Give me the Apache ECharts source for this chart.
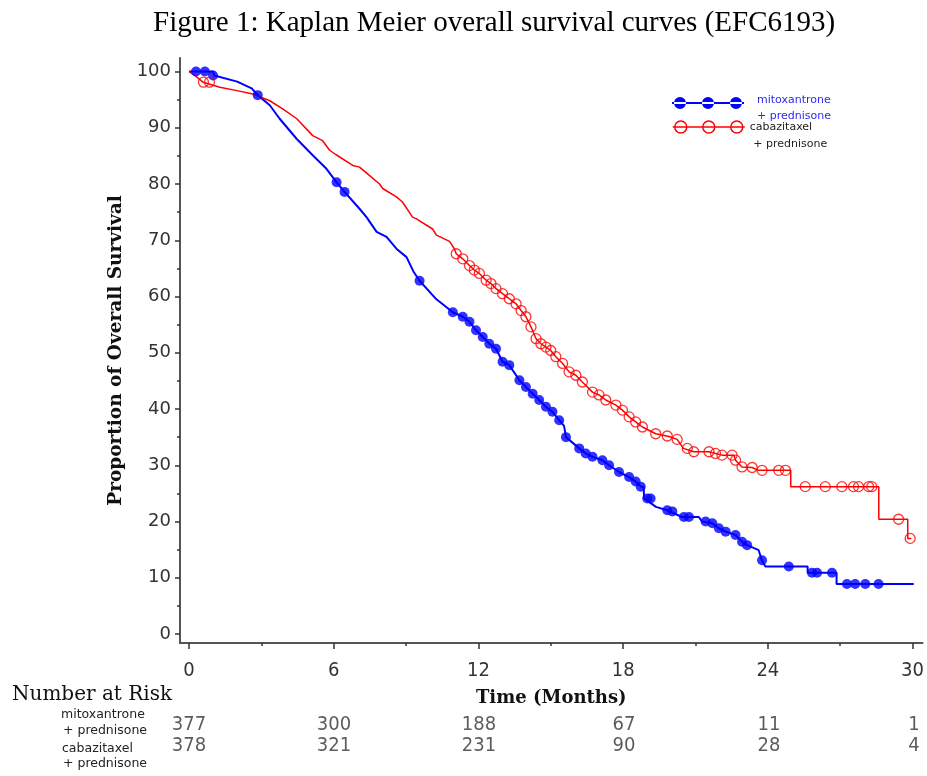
<!DOCTYPE html>
<html><head><meta charset="utf-8">
<script src="https://cdn.jsdelivr.net/npm/echarts@6/dist/echarts.min.js"></script>
<style>html,body{margin:0;padding:0;background:#fff}#c{width:927px;height:776px}</style>
</head><body><div id="c"></div>
<script>
// ---- data ----
const chartTitle = 'Figure 1: Kaplan Meier overall survival curves (EFC6193)';
const mitoName = 'mitoxantrone\n+ prednisone';
const cabaName = 'cabazitaxel\n + prednisone';
const xTickLabels = [0, 6, 12, 18, 24, 30];
const xMinorTicks = [3, 9, 15, 21, 27];
const yTickLabels = [0, 10, 20, 30, 40, 50, 60, 70, 80, 90, 100];
const yMinorTicks = [5, 15, 25, 35, 45, 55, 65, 75, 85, 95];
const riskGroups = ['mitoxantrone + prednisone', 'cabazitaxel + prednisone'];
const riskTimes = [0, 6, 12, 18, 24, 30];
const riskMito = [377, 300, 188, 67, 11, 1];
const riskCaba = [378, 321, 231, 90, 28, 4];

// Kaplan-Meier curve readings [month, % surviving]
const mitoCurve = [[0,100],[1.0,100],[1.05,99.3],[2.0,98.2],[2.6,97],[2.85,95.8],[3.35,94.0],[3.76,91.6],[4.47,88.0],[5.13,85.1],[5.7,82.7],[6.12,80.3],[6.45,78.6],[7.07,75.6],[7.36,74.1],[7.78,71.5],[8.19,70.6],[8.6,68.5],[9.02,67.0],[9.3,64.5],[9.56,62.8],[10.26,59.5],[10.94,57.2],[11.35,56.4],[11.63,55.5],[11.9,54.0],[12.18,52.8],[12.45,51.6],[12.73,50.7],[13.0,48.4],[13.28,47.8],[13.7,45.1],[13.97,43.9],[14.25,42.7],[14.52,41.6],[14.8,40.4],[15.07,39.5],[15.35,38.0],[15.55,37.0],[15.63,35.0],[16.18,33.0],[16.45,32.1],[16.73,31.5],[17.14,30.9],[17.42,30.0],[17.83,28.8],[18.25,27.9],[18.52,27.1],[18.73,26.2],[18.85,26.2],[18.87,24.1],[19.36,22.6],[19.83,22.0],[20.44,20.8],[21.14,20.8],[21.27,20.0],[21.7,19.7],[21.97,18.8],[22.25,18.2],[22.66,17.6],[22.93,16.4],[23.14,15.8],[23.62,14.9],[23.75,13.1],[23.9,12.0],[25.65,12.0],[25.65,10.9],[26.85,10.9],[26.85,8.9],[30.05,8.9]];
const cabaCurve = [[0,100],[0.33,99],[0.58,98.1],[1.28,97.2],[1.99,96.6],[2.65,96.0],[3.35,94.8],[3.9,93.3],[4.47,91.6],[5.13,88.6],[5.54,87.7],[5.83,86.0],[6.1,85.2],[6.79,83.3],[7.07,83.0],[7.49,81.5],[7.9,80.0],[8.03,79.2],[8.6,77.7],[8.85,76.8],[9.27,74.1],[9.43,73.8],[10.1,72.0],[10.26,70.9],[10.8,69.8],[11.0,68.5],[11.08,67.6],[11.35,66.7],[11.63,65.5],[11.83,64.7],[12.04,64.1],[12.32,62.9],[12.52,62.3],[12.73,61.4],[13.0,60.5],[13.28,59.6],[13.56,58.7],[13.77,57.5],[13.97,56.4],[14.18,54.6],[14.39,52.5],[14.59,51.6],[14.8,51.0],[15.0,50.4],[15.21,49.3],[15.49,48.1],[15.76,46.6],[16.04,46.0],[16.31,44.8],[16.73,43.0],[17.0,42.5],[17.28,41.6],[17.7,40.7],[17.97,39.8],[18.25,38.6],[18.52,37.7],[18.8,36.8],[19.35,35.6],[19.9,35.1],[20.24,34.6],[20.5,33.0],[20.93,32.4],[21.56,32.4],[22.1,31.8],[22.6,31.8],[22.66,30.9],[22.93,29.7],[23.35,29.6],[23.6,29.1],[24.95,29.1],[24.95,26.2],[28.6,26.2],[28.6,20.4],[29.8,20.4],[29.8,17.0],[29.95,17.0]];

// censoring marks [month, %]
const mitoCensor = [[0.29,100],[0.66,100],[1.0,99.3],[2.85,95.8],[6.12,80.3],[6.45,78.6],[9.56,62.8],[10.94,57.2],[11.35,56.4],[11.63,55.5],[11.9,54.0],[12.18,52.8],[12.45,51.6],[12.73,50.7],[13.0,48.4],[13.28,47.8],[13.7,45.1],[13.97,43.9],[14.25,42.7],[14.52,41.6],[14.8,40.4],[15.07,39.5],[15.35,38.0],[15.63,35.0],[16.18,33.0],[16.45,32.1],[16.73,31.5],[17.14,30.9],[17.42,30.0],[17.83,28.8],[18.25,27.9],[18.52,27.1],[18.73,26.2],[19.0,24.1],[19.14,24.1],[19.83,22.0],[20.04,21.8],[20.52,20.8],[20.73,20.8],[21.42,20.0],[21.7,19.7],[21.97,18.8],[22.25,18.2],[22.66,17.6],[22.93,16.4],[23.14,15.8],[23.76,13.1],[24.87,12.0],[25.83,10.9],[26.04,10.9],[26.66,10.9],[27.28,8.9],[27.62,8.9],[28.04,8.9],[28.59,8.9]];
const cabaCensor = [[0.6,98.1],[0.85,98.1],[11.08,67.6],[11.35,66.7],[11.63,65.5],[11.83,64.7],[12.04,64.1],[12.32,62.9],[12.52,62.3],[12.73,61.4],[13.0,60.5],[13.28,59.6],[13.56,58.7],[13.77,57.5],[13.97,56.4],[14.18,54.6],[14.39,52.5],[14.59,51.6],[14.8,51.0],[15.0,50.4],[15.21,49.3],[15.49,48.1],[15.76,46.6],[16.04,46.0],[16.31,44.8],[16.73,43.0],[17.0,42.5],[17.28,41.6],[17.7,40.7],[17.97,39.8],[18.25,38.6],[18.52,37.7],[18.8,36.8],[19.35,35.6],[19.83,35.2],[20.24,34.6],[20.66,33.0],[20.93,32.4],[21.56,32.4],[21.83,32.1],[22.1,31.8],[22.52,31.8],[22.66,30.9],[22.93,29.7],[23.35,29.6],[23.76,29.1],[24.45,29.1],[24.73,29.1],[25.55,26.2],[26.38,26.2],[27.07,26.2],[27.55,26.2],[27.76,26.2],[28.18,26.2],[28.31,26.2],[29.42,20.4],[29.9,17.0]];

// ---- chart ----
const BLUE = '#0000ff', RED = '#ff0000';
const narrow = "'DejaVu Sans Condensed','Liberation Sans Narrow','Roboto Condensed','Liberation Sans',sans-serif";
const times = "'Liberation Serif','DejaVu Serif',serif";
const slab = "'DejaVu Serif','Liberation Serif',serif";
const sans = "'DejaVu Sans','Liberation Sans',sans-serif";
const circ = (cx) => `M${cx-6},6A6,6,0,1,0,${cx+6},6A6,6,0,1,0,${cx-6},6Z`;
const bluePath = 'path://M0,5H72V7H0Z ' + circ(8) + ' ' + circ(36) + ' ' + circ(64);
const redPath = 'path://M0,6H72 ' + circ(8) + ' ' + circ(36) + ' ' + circ(64);

// plot area: x = 0 at 189px, 30 at 914px; y = 100 at 71.5px, 0 at 634px; axes drawn at 180px / 643px
const PX_PER_MONTH = 725 / 30, PX_PER_PCT = 562.5 / 100;
const GRID = {left: 180, right: 3, top: 58, height: 585};
const xMin = -9 / PX_PER_MONTH, xMax = xMin + (927 - GRID.left - GRID.right) / PX_PER_MONTH;
const yMin = -9 / PX_PER_PCT, yMax = yMin + GRID.height / PX_PER_PCT;

const riskData = (vals, g) => riskTimes.map((t, i) => [t, g, vals[i]]);
const legendFmt = (name) => name.split('\n').map(s => '{a|' + s + '}').join('\n');

const chart = echarts.init(document.getElementById('c'), null, {renderer: 'canvas'});
chart.setOption({
  animation: false,
  backgroundColor: '#fff',
  title: {
    text: chartTitle, left: 148, top: 4,
    textStyle: {fontFamily: times, fontSize: 29, fontWeight: 'normal', color: '#000'}
  },
  legend: [
    {
      data: [{name: mitoName, icon: bluePath, itemStyle: {color: BLUE, borderWidth: 0}}],
      left: 672, top: 82, padding: 0, itemWidth: 72, itemHeight: 12, selectedMode: false,
      formatter: (n) => '{p| }\n' + legendFmt(n),
      textStyle: {rich: {
        p: {fontSize: 1, height: 10, lineHeight: 10},
        a: {fontFamily: sans, fontSize: 11, lineHeight: 16, color: '#2a2aee', padding: [0, 0, 0, 8]}
      }}
    },
    {
      data: [{name: cabaName, icon: redPath, itemStyle: {color: 'rgba(0,0,0,0)', borderColor: RED, borderWidth: 1.5}}],
      left: 672, top: 101, padding: 0, itemWidth: 72, itemHeight: 12, selectedMode: false,
      formatter: (n) => '{p| }\n' + legendFmt(n),
      textStyle: {rich: {
        p: {fontSize: 1, height: 18, lineHeight: 18},
        a: {fontFamily: sans, fontSize: 11, lineHeight: 17, color: '#222'}
      }}
    }
  ],
  grid: [
    GRID,
    {left: 189, right: 13, top: 714.5, height: 42}
  ],
  xAxis: [
    {
      gridIndex: 0, type: 'value', min: xMin, max: xMax, position: 'bottom',
      name: 'Time (Months)', nameLocation: 'middle', nameGap: 46,
      nameTextStyle: {fontFamily: slab, fontSize: 18, fontWeight: 'bold', color: '#111'},
      axisLine: {show: true, onZero: false, lineStyle: {color: '#555', width: 2}},
      axisTick: {show: true, length: 6, customValues: xTickLabels, lineStyle: {color: '#333', width: 1.5}},
      splitLine: {show: false},
      axisLabel: {margin: 18, customValues: xTickLabels, fontFamily: narrow, fontSize: 20, color: '#333'}
    },
    {
      gridIndex: 0, type: 'value', min: xMin, max: xMax, position: 'bottom',
      axisLine: {show: false, onZero: false}, axisLabel: {show: false}, splitLine: {show: false},
      axisTick: {show: true, length: 3, customValues: xMinorTicks, lineStyle: {color: '#333', width: 1.5}}
    },
    {gridIndex: 1, type: 'value', min: 0, max: 30, show: false}
  ],
  yAxis: [
    {
      gridIndex: 0, type: 'value', min: yMin, max: yMax, position: 'left',
      name: 'Proportion of Overall Survival', nameLocation: 'middle', nameGap: 54,
      nameTextStyle: {fontFamily: slab, fontSize: 18.5, fontWeight: 'bold', color: '#111'},
      axisLine: {show: true, onZero: false, lineStyle: {color: '#555', width: 2}},
      axisTick: {show: true, length: 5, customValues: yTickLabels, lineStyle: {color: '#333', width: 1.5}},
      splitLine: {show: false},
      axisLabel: {margin: 9, customValues: yTickLabels, fontFamily: sans, fontSize: 18, color: '#333'}
    },
    {
      gridIndex: 0, type: 'value', min: yMin, max: yMax, position: 'left',
      axisLine: {show: false, onZero: false}, axisLabel: {show: false}, splitLine: {show: false},
      axisTick: {show: true, length: 3, customValues: yMinorTicks, lineStyle: {color: '#333', width: 1.5}}
    },
    {gridIndex: 1, type: 'category', data: riskGroups, inverse: true, show: false}
  ],
  series: [
    {name: mitoName, type: 'line', xAxisIndex: 0, yAxisIndex: 0, data: mitoCurve, symbol: 'none',
     lineStyle: {color: BLUE, width: 2}, itemStyle: {color: BLUE}, z: 3},
    {name: cabaName, type: 'line', xAxisIndex: 0, yAxisIndex: 0, data: cabaCurve, symbol: 'none',
     lineStyle: {color: RED, width: 1.5}, itemStyle: {color: RED}, z: 3},
    {name: 'mito censored', type: 'scatter', xAxisIndex: 0, yAxisIndex: 0, data: mitoCensor,
     symbol: 'circle', symbolSize: 10, itemStyle: {color: BLUE}, z: 4},
    {name: 'caba censored', type: 'scatter', xAxisIndex: 0, yAxisIndex: 0, data: cabaCensor,
     symbol: 'circle', symbolSize: 10, itemStyle: {color: 'rgba(255,255,255,0)', borderColor: RED, borderWidth: 1.3}, z: 4},
    {name: 'risk mito', type: 'scatter', xAxisIndex: 2, yAxisIndex: 2, data: riskData(riskMito, riskGroups[0]),
     symbolSize: 0, label: {show: true, position: 'inside', formatter: p => p.value[2],
       fontFamily: narrow, fontSize: 20, color: '#333'}},
    {name: 'risk caba', type: 'scatter', xAxisIndex: 2, yAxisIndex: 2, data: riskData(riskCaba, riskGroups[1]),
     symbolSize: 0, label: {show: true, position: 'inside', formatter: p => p.value[2],
       fontFamily: narrow, fontSize: 20, color: '#333'}}
  ],
  graphic: [
    {type: 'text', style: {x: 12, y: 695, verticalAlign: 'middle', text: 'Number at Risk', font: '20px ' + slab, fill: '#111'}},
    {type: 'text', style: {x: 61, y: 715, verticalAlign: 'middle', text: 'mitoxantrone', font: '12.5px ' + sans, fill: '#222'}},
    {type: 'text', style: {x: 63, y: 731, verticalAlign: 'middle', text: '+ prednisone', font: '12.5px ' + sans, fill: '#222'}},
    {type: 'text', style: {x: 62, y: 749, verticalAlign: 'middle', text: 'cabazitaxel', font: '12.5px ' + sans, fill: '#222'}},
    {type: 'text', style: {x: 63, y: 764, verticalAlign: 'middle', text: '+ prednisone', font: '12.5px ' + sans, fill: '#222'}}
  ]
});
</script></body></html>
